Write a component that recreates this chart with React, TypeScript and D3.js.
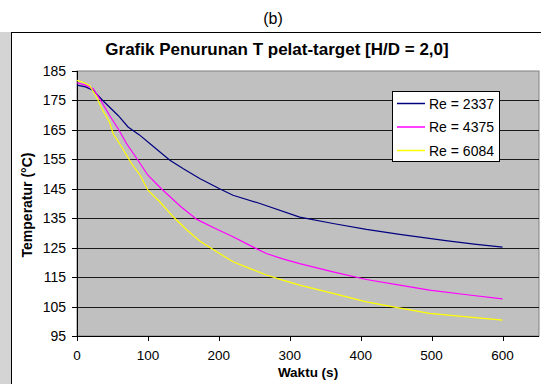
import React from "react";
import * as d3 from "d3";

const yTicks = [95, 105, 115, 125, 135, 145, 155, 165, 175, 185];
const xTicks = [0, 100, 200, 300, 400, 500, 600];

const re2337T = [0, 12, 23, 37, 58, 72, 88, 103, 131, 150, 173, 201, 220, 258, 314, 361, 408, 455, 520, 560, 600];
const re2337V = [180.2, 179.6, 178.4, 174.8, 169.9, 166, 163.3, 160.3, 154.7, 151.8, 148.5, 145, 142.8, 140, 135.4, 133.2, 131.2, 129.5, 127.4, 126.2, 125.2];

const re4375T = [0, 12, 23, 35, 46, 58, 70, 86, 100, 119, 147, 169, 195, 220, 245, 267, 290, 314, 361, 408, 455, 497, 550, 600];
const re4375V = [181, 180.2, 179, 174.4, 169.9, 165.4, 160.3, 154.7, 149.6, 145, 138.8, 134.6, 131.5, 128.7, 125.6, 123, 121.2, 119.6, 116.8, 114.2, 112.3, 110.6, 109, 107.6];

const re6084T = [0, 10, 18, 28, 35, 46, 51, 63, 77, 89, 100, 117, 136, 155, 173, 201, 220, 245, 267, 290, 314, 361, 408, 450, 497, 550, 600];
const re6084V = [181.8, 181, 180, 176, 172.2, 167.6, 163.7, 159.2, 153.5, 149.6, 144.5, 140.5, 135.4, 131, 127.3, 123, 120.2, 117.8, 115.7, 114, 112.3, 109.5, 106.6, 104.7, 102.7, 101.5, 100.4];

const seriesNames = ["Re = 2337", "Re = 4375", "Re = 6084"];
const seriesColors = ["#000080", "#ff00ff", "#ffff00"];

export default function App() {
  const left = 77, right = 539, top = 71, bottom = 336;
  const xPlotEnd = 502.5;
  const x = d3.scaleLinear().domain([0, 600]).range([left, xPlotEnd]);
  const y = d3.scaleLinear().domain([95, 185]).range([bottom, top]);
  const line = d3.line<[number, number]>().x(d => x(d[0])).y(d => y(d[1]));
  const series = [
    re2337T.map((t, i) => [t, re2337V[i]] as [number, number]),
    re4375T.map((t, i) => [t, re4375V[i]] as [number, number]),
    re6084T.map((t, i) => [t, re6084V[i]] as [number, number]),
  ];
  const font = "'Liberation Sans', Arial, sans-serif";
  return (
    <svg width={541} height={384} style={{ position: "absolute", left: 0, top: 0 }} fontFamily={font}>
      <rect x={0} y={0} width={541} height={384} fill="#ffffff" />
      <rect x={0} y={32} width={12} height={352} fill="#d4d4d4" />
      <line x1={12} y1={32.5} x2={541} y2={32.5} stroke="#000" />
      <line x1={11.5} y1={32} x2={11.5} y2={384} stroke="#000" />
      <text x={273} y={24} textAnchor="middle" fontSize={16}>(b)</text>
      <text x={277} y={54.5} textAnchor="middle" fontSize={17} fontWeight="bold">
        Grafik Penurunan T pelat-target [H/D = 2,0]
      </text>
      <rect x={left} y={top} width={right - left} height={bottom - top} fill="#c0c0c0" stroke="#808080" />
      {yTicks.slice(1, -1).map(v => (
        <line key={v} x1={left} x2={right} y1={Math.round(y(v)) + 0.5} y2={Math.round(y(v)) + 0.5} stroke="#1a1a1a" />
      ))}
      <line x1={left + 0.5} x2={left + 0.5} y1={top} y2={bottom} stroke="#000" />
      <line x1={left} x2={right} y1={bottom + 0.5} y2={bottom + 0.5} stroke="#000" />
      {yTicks.map(v => (
        <g key={v}>
          <line x1={left - 5} x2={left} y1={Math.round(y(v)) + 0.5} y2={Math.round(y(v)) + 0.5} stroke="#000" />
          <text x={66} y={y(v) + 5} textAnchor="end" fontSize={14}>{v}</text>
        </g>
      ))}
      {xTicks.map(v => (
        <g key={v}>
          <line x1={Math.round(x(v)) + 0.5} x2={Math.round(x(v)) + 0.5} y1={bottom} y2={bottom + 5} stroke="#000" />
          <text x={x(v)} y={360} textAnchor="middle" fontSize={13.5}>{v}</text>
        </g>
      ))}
      <text x={308} y={377} textAnchor="middle" fontSize={13.5} fontWeight="bold">Waktu (s)</text>
      <text transform={`translate(32,205) rotate(-90)`} textAnchor="middle" fontSize={14} fontWeight="bold">
        Temperatur (°C)
      </text>
      {series.map((s, i) => (
        <path key={i} d={line(s) || ""} fill="none" stroke={seriesColors[i]} strokeWidth={1.2} />
      ))}
      <rect x={392.5} y={91.5} width={107} height={70} fill="#ffffff" stroke="#000" />
      {seriesNames.map((n, i) => (
        <g key={n}>
          <line x1={397} x2={425} y1={103.5 + i * 23.5} y2={103.5 + i * 23.5} stroke={seriesColors[i]} strokeWidth={1.5} />
          <text x={429} y={108.5 + i * 23.5} fontSize={14}>{n}</text>
        </g>
      ))}
    </svg>
  );
}
